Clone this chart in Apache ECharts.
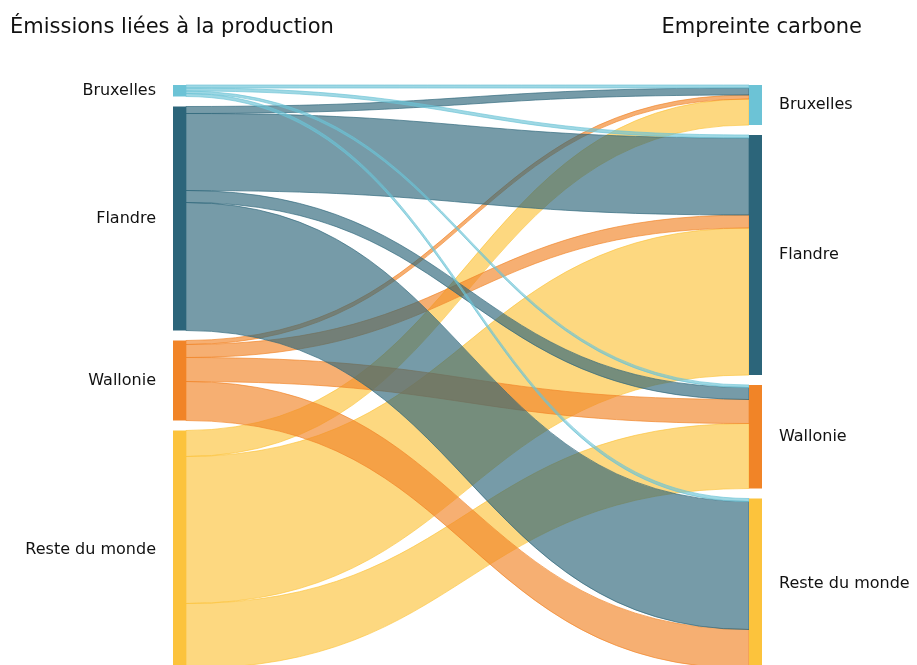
<!DOCTYPE html>
<html><head><meta charset="utf-8">
<script src="https://cdn.jsdelivr.net/npm/echarts@6/dist/echarts.min.js"></script>
<style>html,body{margin:0;padding:0;background:#fff}#c{width:917px;height:665px}</style>
</head><body><div id="c"></div>
<script>
const regions = ['Bruxelles', 'Flandre', 'Wallonie', 'Reste du monde'];
const regionColors = ['#6cc3d6', '#2c657a', '#f18427', '#fcc33c'];
const leftTitle = 'Émissions liées à la production';
const rightTitle = 'Empreinte carbone';
// flows from production region -> footprint region (order: Bruxelles, Flandre, Wallonie, Reste du monde)
const fromBruxelles = [3, 3, 2.5, 3];
const fromFlandre = [7, 77, 12, 128];
const fromWallonie = [4, 13, 24, 39];
const fromReste = [26, 147, 65, 0];
const flows = [fromBruxelles, fromFlandre, fromWallonie, fromReste];
// drawing order of the link groups (later = on top)
const drawOrder = [3, 2, 1, 0];

const FONT = 'DejaVu Sans';
const nodeGap = 10, topPx = 85, H = 665;

const nodes = [];
regions.forEach((r, i) => nodes.push({
  name: 'P|' + r, itemStyle: {color: regionColors[i]},
  label: {position: 'left'}
}));
regions.forEach((r, i) => nodes.push({
  name: 'E|' + r, itemStyle: {color: regionColors[i]},
  label: {position: 'right'}
}));
const links = [];
let total = 0;
drawOrder.forEach(i => flows[i].forEach((v, j) => {
  total += v;
  if (v > 0) links.push({
    source: 'P|' + regions[i], target: 'E|' + regions[j], value: v,
    lineStyle: {color: regionColors[i], opacity: 0.65, borderColor: regionColors[i], borderWidth: 1}
  });
}));
const seriesHeight = total + nodeGap * (regions.length - 1);

const chart = echarts.init(document.getElementById('c'));
chart.setOption({
  animation: false,
  backgroundColor: '#fff',
  title: [
    {text: leftTitle, left: 5, top: 12, textStyle: {fontFamily: FONT, fontSize: 21, fontWeight: 'normal', color: '#111'}},
    {text: rightTitle, right: 50, top: 12, textStyle: {fontFamily: FONT, fontSize: 21, fontWeight: 'normal', color: '#111'}}
  ],
  series: [{
    type: 'sankey',
    left: 173, right: 155, top: topPx, bottom: H - topPx - seriesHeight,
    nodeWidth: 13, nodeGap: nodeGap, layoutIterations: 0, nodeAlign: 'justify',
    draggable: false,
    emphasis: {disabled: true},
    label: {fontFamily: FONT, fontSize: 16, color: '#111', distance: 17,
      formatter: p => p.name.split('|')[1]},
    lineStyle: {curveness: 0.5},
    data: nodes,
    links: links
  }]
});
</script></body></html>
